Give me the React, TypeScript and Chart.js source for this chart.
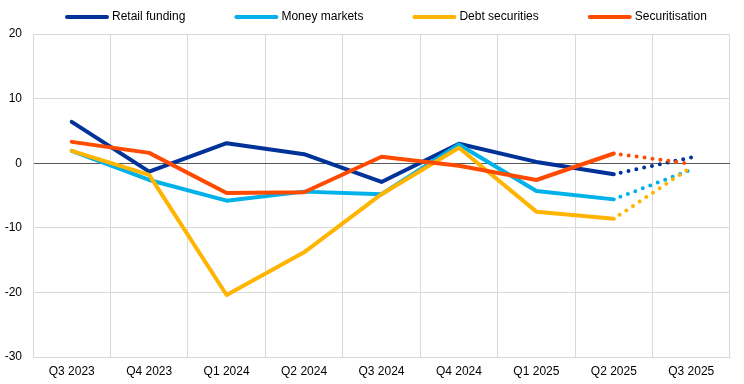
import React, { useEffect, useRef } from 'react';
import { Chart, registerables } from 'chart.js';

Chart.register(...registerables);

const categories = ['Q3 2023', 'Q4 2023', 'Q1 2024', 'Q2 2024', 'Q3 2024', 'Q4 2024', 'Q1 2025', 'Q2 2025', 'Q3 2025'];
const seriesNames = ['Retail funding', 'Money markets', 'Debt securities', 'Securitisation'];
const seriesColors = ['#003299', '#00B1EA', '#FFB400', '#FF4B00'];
// last value (Q3 2025) is expected/projection, drawn dotted
const retailFunding = [6.4, -1.3, 3.1, 1.4, -2.9, 3.0, 0.2, -1.7, 0.9];
const moneyMarkets = [1.9, -2.6, -5.8, -4.4, -4.8, 2.9, -4.3, -5.6, -1.0];
const debtSecurities = [1.9, -1.8, -20.4, -13.8, -4.8, 2.4, -7.5, -8.6, -0.6];
const securitisation = [3.3, 1.6, -4.6, -4.5, 1.0, -0.4, -2.6, 1.5, -0.1];
const yTicks = [-30, -20, -10, 0, 10, 20];
const lastActualIndex = 7;

const FONT = '"Liberation Sans", Arial, sans-serif';

const legendPlugin = {
  id: 'customLegend',
  afterDraw(chart: any) {
    const ctx = chart.ctx;
    ctx.save();
    ctx.font = `12px ${FONT}`;
    ctx.textBaseline = 'middle';
    ctx.textAlign = 'left';
    let x = 65;
    const y = 17;
    seriesNames.forEach((name, i) => {
      ctx.strokeStyle = seriesColors[i];
      ctx.lineWidth = 4;
      ctx.lineCap = 'round';
      ctx.beginPath();
      ctx.moveTo(x + 2, y);
      ctx.lineTo(x + 42, y);
      ctx.stroke();
      ctx.fillStyle = '#000';
      ctx.fillText(name, x + 47, y);
      x += 47 + ctx.measureText(name).width + 49;
    });
    ctx.restore();
  },
};

export default function App() {
  const ref = useRef<HTMLCanvasElement>(null);
  useEffect(() => {
    document.body.style.margin = '0';
    const all = [retailFunding, moneyMarkets, debtSecurities, securitisation];
    const solid = all.map((arr, i) => ({
      label: seriesNames[i],
      data: arr.map((v, j) => (j <= lastActualIndex ? v : null)),
      borderColor: seriesColors[i],
      backgroundColor: seriesColors[i],
      borderWidth: 4,
      pointRadius: 0,
      tension: 0,
      borderJoinStyle: 'round' as const,
      borderCapStyle: 'round' as const,
      order: 10 - i,
    }));
    const dotted = all.map((arr, i) => ({
      label: seriesNames[i] + ' (expected)',
      data: arr.map((v, j) => (j >= lastActualIndex ? v : null)),
      borderColor: seriesColors[i],
      backgroundColor: seriesColors[i],
      borderWidth: 4,
      borderDash: [0, 8],
      borderDashOffset: -7,
      borderCapStyle: 'round' as const,
      pointRadius: 0,
      tension: 0,
      order: 20 - i,
    }));
    const chart = new Chart(ref.current!, {
      type: 'line',
      data: { labels: categories, datasets: [...solid, ...dotted] },
      plugins: [legendPlugin],
      options: {
        responsive: false,
        animation: false,
        layout: { padding: { top: 34, right: 14, left: 0, bottom: 0 } },
        plugins: { legend: { display: false }, tooltip: { enabled: false } },
        scales: {
          x: {
            offset: true,
            grid: { offset: true, color: '#d9d9d9', drawTicks: false, lineWidth: 1 },
            border: { color: '#d9d9d9' },
            ticks: { color: '#000', font: { family: FONT, size: 12 }, padding: 7, maxRotation: 0, autoSkip: false },
            afterFit: (s: any) => { s.height = 27; },
          },
          y: {
            min: -30,
            max: 20,
            afterBuildTicks: (s: any) => { s.ticks = yTicks.map((v) => ({ value: v })); },
            grid: {
              drawTicks: false,
              color: (c: any) => (c.tick && c.tick.value === 0 ? '#595959' : '#d9d9d9'),
            },
            border: { color: '#d9d9d9' },
            ticks: { color: '#000', font: { family: FONT, size: 12 }, padding: 11 },
            afterFit: (s: any) => { s.width = 33; },
          },
        },
      },
    });
    return () => chart.destroy();
  }, []);
  return <canvas ref={ref} width={744} height={384} style={{ display: 'block' }} />;
}
